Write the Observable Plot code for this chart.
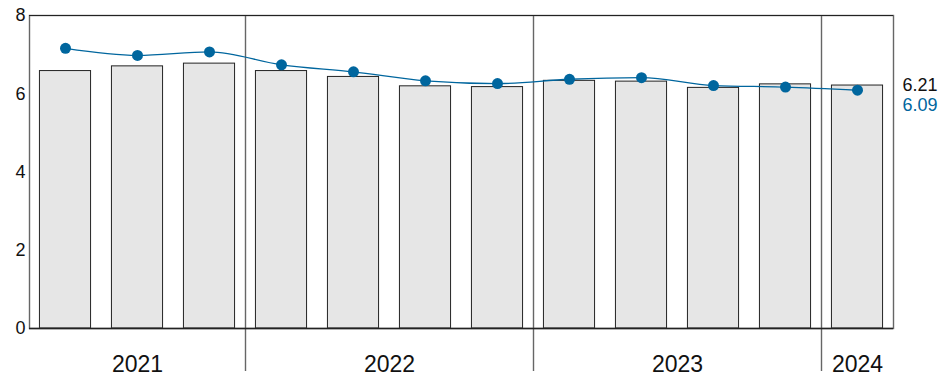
<!DOCTYPE html>
<html>
<head>
<meta charset="utf-8">
<script src="https://cdn.jsdelivr.net/npm/d3@7"></script>
<script src="https://cdn.jsdelivr.net/npm/@observablehq/plot@0.6"></script>
<style>
  html, body { margin: 0; padding: 0; background: #fff; }
  #chart svg { display: block; font-family: "Liberation Sans", Arial, sans-serif; }
</style>
</head>
<body>
<div id="chart"></div>
<script>
// Quarters (Q2 2021 – Q1 2024)
const quarters = ["2021Q2","2021Q3","2021Q4","2022Q1","2022Q2","2022Q3","2022Q4","2023Q1","2023Q2","2023Q3","2023Q4","2024Q1"];
const barValues = [6.58, 6.70, 6.77, 6.58, 6.43, 6.19, 6.17, 6.33, 6.31, 6.15, 6.24, 6.21];
const lineValues = [7.16, 6.98, 7.07, 6.74, 6.56, 6.33, 6.26, 6.37, 6.41, 6.21, 6.17, 6.09];
const years = ["2021", "2022", "2023", "2024"];
const yTicks = [0, 2, 4, 6, 8];
const endLabels = ["6.21", "6.09"];

const data = quarters.map((q, i) => ({q, i, bar: barValues[i], line: lineValues[i], year: q.slice(0, 4)}));
const yearGroups = years.map(y => {
  const idx = data.filter(d => d.year === y).map(d => d.i);
  return {year: y, first: d3.min(idx), last: d3.max(idx), mid: (d3.min(idx) + d3.max(idx)) / 2};
});
const boundaries = yearGroups.slice(1).map(g => g.first - 0.5);
const n = quarters.length;
const half = 0.355;
const blue = "#00669e";

const last = data[n - 1];
const barEnd = [{x: n - 0.5, y: last.bar, text: endLabels[0]}];
const lineEnd = [{x: n - 0.5, y: last.line, text: endLabels[1]}];

const chart = Plot.plot({
  width: 947,
  height: 379,
  marginLeft: 29,
  marginRight: 54,
  marginTop: 15,
  marginBottom: 51,
  style: {fontFamily: "'Liberation Sans', Arial, sans-serif", fontSize: "18px", color: "#111", background: "#fff"},
  x: {type: "linear", domain: [-0.5, n - 0.5], axis: null},
  y: {domain: [0, 8], ticks: yTicks, tickSize: 0, tickPadding: 4, label: null},
  marks: [
    Plot.rectY(data, {x1: d => d.i - half, x2: d => d.i + half, y1: 0, y2: "bar", fill: "#e6e6e6", stroke: "#222", strokeWidth: 1}),
    Plot.ruleX(boundaries, {x: d => d, stroke: "#666", strokeWidth: 1.4, insetBottom: -43}),
    Plot.frame({stroke: "#666", strokeWidth: 1.4}),
    Plot.ruleY([0], {stroke: "#222", strokeWidth: 1.4}),
    Plot.ruleY([8], {stroke: "#222", strokeWidth: 1}),
    Plot.line(data, {x: "i", y: "line", stroke: blue, strokeWidth: 1.3, curve: "monotone-x"}),
    Plot.dot(data, {x: "i", y: "line", r: 5.5, fill: blue, stroke: "none"}),
    Plot.text(yearGroups, {x: "mid", text: "year", frameAnchor: "bottom", lineAnchor: "middle", dy: 36, fontSize: 23, fill: "#111"}),
    Plot.text(barEnd, {x: "x", y: "y", text: "text", fill: "#111", dx: 9, textAnchor: "start", lineAnchor: "middle", fontSize: 18}),
    Plot.text(lineEnd, {x: "x", y: "y", text: "text", fill: blue, dx: 9, dy: 15, textAnchor: "start", lineAnchor: "middle", fontSize: 18})
  ]
});
document.getElementById("chart").appendChild(chart);
</script>
</body>
</html>
